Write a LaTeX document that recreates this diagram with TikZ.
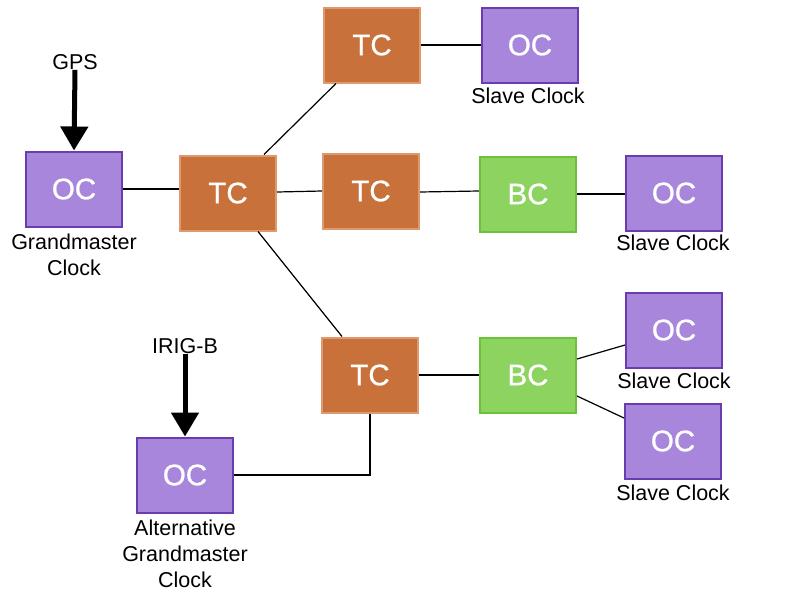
\documentclass[tikz,border=0pt]{standalone}
\usepackage{fontspec}
\setmainfont{Liberation Sans}
\newfontfamily\boxfont[FakeBold=0.9]{Liberation Sans}
\usetikzlibrary{arrows.meta,calc}
\definecolor{ocfill}{HTML}{A886DC}
\definecolor{ocdraw}{HTML}{6A3DAE}
\definecolor{tcfill}{HTML}{C8713A}
\definecolor{tcdraw}{HTML}{DE9A6E}
\definecolor{bcfill}{HTML}{8DD35F}
\definecolor{bcdraw}{HTML}{6CC33A}
\tikzset{
  box/.style={minimum width=96pt, minimum height=75pt, inner sep=0pt, line width=2pt,
    text=white, font=\boxfont\fontsize{29.5}{32}\selectfont},
  ocbox/.style={box, fill=ocfill, draw=ocdraw},
  tcbox/.style={box, fill=tcfill, draw=tcdraw},
  bcbox/.style={box, fill=bcfill, draw=bcdraw},
  lbl/.style={inner sep=0pt, align=center, font=\fontsize{21.5}{26}\selectfont},
  link/.style={line width=1.2pt},
  bigarrow/.style={line width=5pt, -{Triangle[width=27pt,length=24pt]}}
}
\begin{document}
\begin{tikzpicture}[x=1pt,y=-1pt]
\useasboundingbox (0,0) rectangle (802,600);
% nodes
\node[ocbox] (gm) at (74,189) {OC};
\node[tcbox] (tc1) at (228,193) {TC};
\node[tcbox] (tct) at (372,45) {TC};
\node[ocbox] (oct) at (530,45) {OC};
\node[tcbox] (tcm) at (371,191) {TC};
\node[bcbox] (bcm) at (528,194) {BC};
\node[ocbox] (ocm) at (674,193) {OC};
\node[tcbox] (tcb) at (370,375) {TC};
\node[bcbox] (bcb) at (528,375) {BC};
\node[ocbox] (ocu) at (674,330) {OC};
\node[ocbox] (ocl) at (673,441) {OC};
\node[ocbox] (alt) at (185,475) {OC};
% labels
\node[lbl] (gps) at (75,62) {GPS};
\node[lbl] (irig) at (185,346) {IRIG-B};
\node[lbl] (gmlbl) at (74,255) {Grandmaster\\Clock};
\node[lbl] (altlbl) at (185,554) {Alternative\\Grandmaster\\Clock};
\node[lbl] (sl1) at (528,96) {Slave Clock};
\node[lbl] (sl2) at (673,243) {Slave Clock};
\node[lbl] (sl3) at (674,381) {Slave Clock};
\node[lbl] (sl4) at (673,493) {Slave Clock};
% arrows
\draw[bigarrow] (gps.south) -- (gm.north);
\draw[bigarrow] (irig.south) -- (alt.north);
% links
\draw[link] (gm.east) -- (gm.east -| tc1.west);
\draw[link] ([xshift=36pt]tc1.north) -- ([xshift=-36pt]tct.south);
\draw[link] ([yshift=1pt]tc1.east) -- (tcm.west);
\draw[link] ([xshift=30pt]tc1.south) -- ([xshift=-28pt]tcb.north);
\draw[link] (tct.east) -- (oct.west);
\draw[link] ([yshift=-1pt]tcm.east) -- (tcm.east -| bcm.west);
\draw[link] (bcm.east) -- (bcm.east -| ocm.west);
\draw[link] (tcb.east) -- (bcb.west);
\draw[link] ([yshift=16pt]bcb.east) -- ([yshift=-15pt]ocu.west);
\draw[link] ([yshift=-21pt]bcb.east) -- ([yshift=23pt]ocl.west);
\draw[link] (alt.east) -| (tcb.south);
\end{tikzpicture}
\end{document}
